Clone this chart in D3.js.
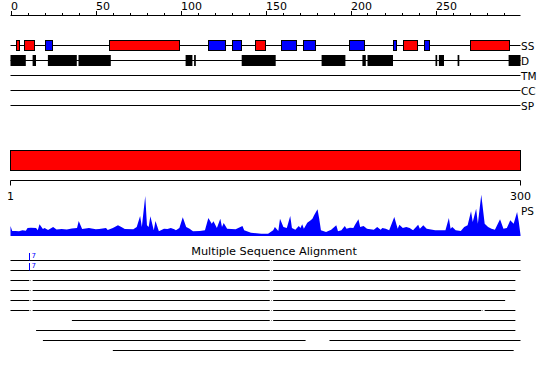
<!DOCTYPE html>
<html><head><meta charset="utf-8">
<script src="https://cdn.jsdelivr.net/npm/d3@7"></script>
<style>body{margin:0;background:#fff}svg{display:block}text{font-family:"DejaVu Sans",sans-serif}</style>
</head><body>
<svg id="c" width="550" height="380"></svg>
<script>
// ---- data ----
const topTicks = [0, 50, 100, 150, 200, 250];
const trackNames = ["SS", "D", "TM", "CC", "SP"];
const ssStarts = [3, 8, 20, 58, 116, 130, 144, 159, 172, 199, 225, 231, 243, 270];
const ssEnds   = [5, 14, 24, 99, 126, 135, 150, 168, 179, 208, 227, 239, 246, 293];
const ssTypes  = ["H","H","E","H","E","E","H","E","E","E","E","H","E","H"];
const dStarts = [0, 13, 22, 40, 103, 108, 136, 183, 207, 210, 250, 252, 263, 293];
const dEnds   = [9, 15, 39, 59, 107, 109, 156, 197, 209, 225, 251, 255, 264, 300];
const seqRange = [1, 300];
const psPos = [1,2,4,6,8,10,11,13,16,17,18,20,21,23,26,28,31,34,37,40,41,43,47,51,53,57,58,61,64,66,68,73,75,77,78,80,81,82,83,85,86,88,91,93,95,97,98,100,102,104,106,108,112,115,117,119,120,122,124,125,126,128,133,137,138,142,148,152,155,156,158,159,161,163,165,166,168,170,171,172,173,175,177,178,179,181,182,183,186,189,192,193,195,197,198,200,202,203,205,206,208,210,214,216,218,219,221,223,226,228,229,231,233,235,237,240,241,243,245,250,256,258,259,260,262,265,267,269,271,272,274,275,277,279,281,283,285,288,290,292,294,296,298,299,300];
const psVal = [10,5,5,4.7,5.7,5.3,8,8.3,8,5.7,11.7,7,8,6,9,6.5,7,6.5,7.5,8,15,7,8,6.7,7,8,6,8,10.7,9,7,6.7,9,20,9,40,10.7,9,19.7,5.7,15,4.7,7.3,7,8,6.7,5.7,8,18.7,9,7.3,4.7,5,5.7,18,12.3,14.7,8,17.3,9,13,7.3,6.7,10,5.7,3.3,2.3,2.3,5.7,9,5,17.3,9,8,20,8,6.3,10,8,11.7,7.3,13.3,15.7,17.3,20.7,26.7,17.3,5.7,4,6.3,10.7,4.7,5.7,10,7.3,8.3,8,11.3,16.7,9,10,7.3,6.3,9,6.3,8,7.3,5.7,19,7.3,11.3,8,9,8,5.7,11.3,7.3,10.7,7.3,5.7,5.7,18,7.3,9,5.7,5,9,10.7,24.7,14,27.3,12.3,41.3,12.3,9,7.3,6.3,16.7,7.3,8,15.7,12.3,24,14,1];
const msaSegments = [
  [[1,153],[155,300]],
  [[1,153],[155,300]],
  [[1,12],[14,153],[155,297]],
  [[1,12],[14,153],[155,297]],
  [[1,12],[14,153],[155,291]],
  [[1,12],[14,153],[155,277],[279,297]],
  [[37,153],[155,297]],
  [[16,297]],
  [[20,174],[188,300]],
  [[61,296]]
];
const msaDots = [[154],[154],[13,154],[13,154],[13,154],[13,154,278],[154],[],[],[]];
const msaMarkers = [[12,"7"],[12,"7"],null,null,null,null,null,null,null,null];
const msaTitle = "Multiple Sequence Alignment";

// ---- drawing ----
const svg = d3.select("#c");
const xTop = d3.scaleLinear().domain([0, 300]).range([10.5, 520.5]);
const xSeq = d3.scaleLinear().domain(seqRange).range([10.5, 520.5]);

// top axis
const gAx = svg.append("g");
gAx.append("line").attr("x1", xTop(0)).attr("x2", xTop(300)).attr("y1", 15.5).attr("y2", 15.5).attr("stroke", "#000");
gAx.selectAll("line.t").data(d3.range(0, 300, 10)).join("line")
  .attr("x1", d => Math.round(xTop(d)) + 0.5).attr("x2", d => Math.round(xTop(d)) + 0.5)
  .attr("y1", d => d % 50 === 0 ? 11 : 13).attr("y2", 15.5).attr("stroke", "#000");
gAx.selectAll("text").data(topTicks).join("text")
  .attr("x", d => xTop(d) + 0.5).attr("y", 10).attr("font-size", 11).text(d => d);

// tracks
const trackY = d3.scalePoint().domain(trackNames).range([45.5, 105.5]);
const gT = svg.append("g");
gT.selectAll("line").data(trackNames).join("line")
  .attr("x1", xTop(0)).attr("x2", xTop(300)).attr("y1", d => trackY(d)).attr("y2", d => trackY(d)).attr("stroke", "#000");
gT.selectAll("text").data(trackNames).join("text")
  .attr("x", 521).attr("y", d => trackY(d) + 4).attr("font-size", 10.5).text(d => d);

// SS boxes
svg.append("g").selectAll("rect").data(ssStarts.map((s, i) => ({s, e: ssEnds[i], t: ssTypes[i]}))).join("rect")
  .attr("x", d => Math.round(xTop(d.s)) + 0.5).attr("width", d => Math.round(xTop(d.e) - xTop(d.s)))
  .attr("y", trackY("SS") - 5).attr("height", 10)
  .attr("fill", d => d.t === "H" ? "#ff0000" : "#0000ff").attr("stroke", "#000");

// D boxes
svg.append("g").selectAll("rect").data(dStarts.map((s, i) => ({s, e: dEnds[i]}))).join("rect")
  .attr("x", d => xTop(d.s)).attr("width", d => Math.max(1.5, xTop(d.e) - xTop(d.s)))
  .attr("y", trackY("D") - 5.5).attr("height", 11).attr("fill", "#000");

// red domain bar
svg.append("rect").attr("x", xSeq(1)).attr("width", xSeq(300) - xSeq(1))
  .attr("y", 150.5).attr("height", 20).attr("fill", "#ff0000").attr("stroke", "#000");

// lower axis
const gB = svg.append("g");
gB.append("line").attr("x1", xSeq(1)).attr("x2", xSeq(300)).attr("y1", 180.5).attr("y2", 180.5).attr("stroke", "#000");
gB.selectAll("line.t").data(seqRange).join("line")
  .attr("x1", d => xSeq(d)).attr("x2", d => xSeq(d)).attr("y1", 180.5).attr("y2", 185.5).attr("stroke", "#000");
gB.selectAll("text").data(seqRange).join("text")
  .attr("x", d => xSeq(d)).attr("y", 200).attr("text-anchor", "middle").attr("font-size", 11).text(d => d);
gB.append("text").attr("x", 521).attr("y", 215).attr("font-size", 10.5).text("PS");

// PS area
const yPS = d3.scaleLinear().domain([0, 45]).range([236, 191]);
const area = d3.area().x(d => xSeq(d[0])).y0(yPS(0)).y1(d => yPS(d[1])).curve(d3.curveLinear);
svg.append("path").datum(psPos.map((p, i) => [p, psVal[i]])).attr("d", area).attr("fill", "#0000ff");

// MSA
svg.append("text").attr("x", 274).attr("y", 255).attr("text-anchor", "middle").attr("font-size", 11.3).text(msaTitle);
const rowY = i => 260.5 + i * 10;
const gM = svg.append("g");
msaSegments.forEach((segs, i) => {
  gM.selectAll(null).data(segs).join("line")
    .attr("x1", d => xSeq(d[0])).attr("x2", d => xSeq(d[1]))
    .attr("y1", rowY(i)).attr("y2", rowY(i)).attr("stroke", "#000");
  gM.selectAll(null).data(msaDots[i]).join("rect")
    .attr("x", d => Math.floor(xSeq(d))).attr("y", rowY(i) - 0.5).attr("width", 1).attr("height", 1).attr("fill", "#999");
  const m = msaMarkers[i];
  if (m) {
    const mx = Math.floor(xSeq(m[0])) + 0.5;
    gM.append("line").attr("x1", mx).attr("x2", mx).attr("y1", rowY(i) - 7.5).attr("y2", rowY(i)).attr("stroke", "#0000ff");
    gM.append("text").attr("x", mx + 2).attr("y", rowY(i) - 3).attr("font-size", 7).attr("fill", "#0000ff").text(m[1]);
  }
});
</script>
</body></html>
